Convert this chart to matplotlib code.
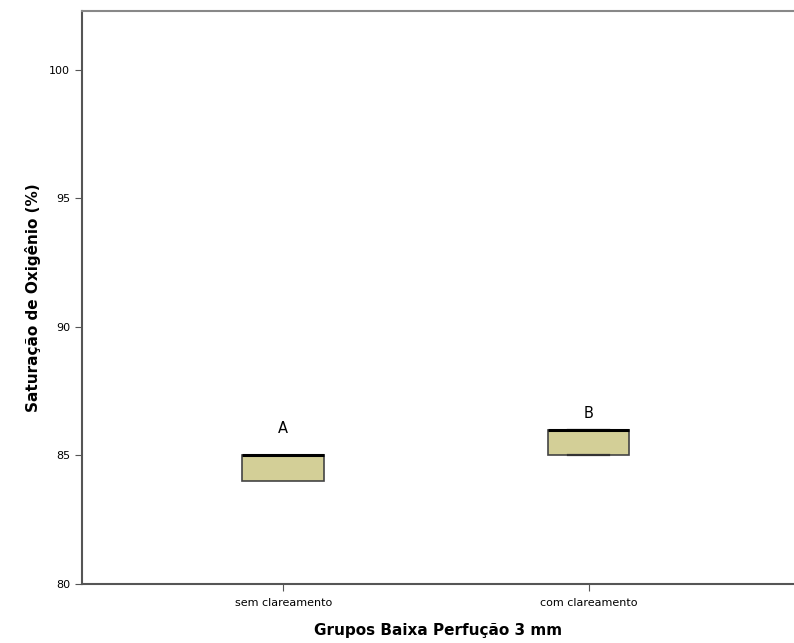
import matplotlib.pyplot as plt

groups = ['sem clareamento', 'com clareamento']
q1 = [84, 85]
medians = [85, 86]
q3 = [85, 86]
whis_lo = [84, 85]
whis_hi = [85, 86]
letters = ['A', 'B']
letter_y = [85.75, 86.35]

plt.rcParams['font.family'] = ['DejaVu Sans']

fig = plt.figure(figsize=(7.94, 6.43), dpi=100)
ax = fig.add_axes([0.103, 0.092, 0.897, 0.891])

stats = []
for i in range(len(groups)):
    stats.append({'label': groups[i], 'q1': q1[i], 'med': medians[i], 'q3': q3[i],
                  'whislo': whis_lo[i], 'whishi': whis_hi[i], 'fliers': []})

ax.bxp(stats, positions=range(len(groups)), widths=0.266, patch_artist=True,
       showfliers=False, capwidths=[0.0, 0.133],
       boxprops=dict(facecolor='#d3cf97', edgecolor='#444444', linewidth=1.2),
       medianprops=dict(color='black', linewidth=2.2, zorder=4),
       whiskerprops=dict(color='#444444', linewidth=1.2),
       capprops=dict(color='#333333', linewidth=1.6, zorder=3))

for i, t in enumerate(letters):
    ax.text(i, letter_y[i], t, ha='center', va='bottom', fontsize=10.5)

ax.set_xlim(-0.659, 1.672)
ax.set_ylim(80, 102.3)
ax.set_yticks([80, 85, 90, 95, 100])
ax.set_xticks(range(len(groups)))
ax.set_xticklabels(groups, fontsize=8)
ax.tick_params(axis='y', labelsize=8, length=5, color='#555555')
ax.tick_params(axis='x', length=5, pad=5, color='#555555')
ax.set_ylabel('Saturação de Oxigênio (%)', fontsize=11, fontweight='bold', labelpad=6)
ax.set_xlabel('Grupos Baixa Perfução 3 mm', fontsize=11, fontweight='bold', labelpad=11)
ax.spines['right'].set_visible(False)
for s in ['left', 'bottom']:
    ax.spines[s].set_color('#555555')
    ax.spines[s].set_linewidth(1.5)
ax.spines['top'].set_color('#888888')
ax.spines['top'].set_linewidth(1.5)

fig.savefig('out.png', dpi=100)
